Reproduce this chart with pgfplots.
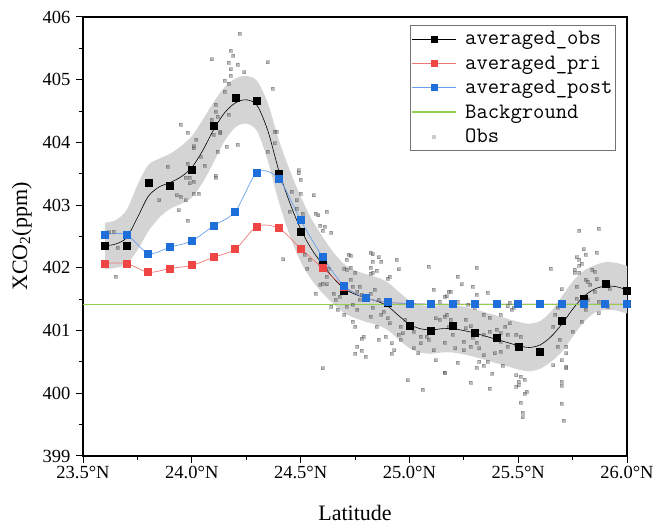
\documentclass[border=0pt]{standalone}
\usepackage{pgfplots}
\pgfplotsset{compat=1.18}
\usepackage{pgfplotstable}
\usepgfplotslibrary{fillbetween}
\usepackage{fontspec}
\setmainfont{Liberation Serif}
\definecolor{cRed}{HTML}{F04545}
\definecolor{cRedL}{HTML}{F07878}
\definecolor{cBlue}{HTML}{1E6FD9}
\definecolor{cBlueL}{HTML}{6AA0EA}
\definecolor{cGreen}{HTML}{92CD50}
\definecolor{cBand}{HTML}{D4D4D4}

\pgfplotstableread{
x y
23.6 402.35
23.7 402.36
23.8 403.35
23.9 403.31
24.0 403.57
24.1 404.26
24.2 404.72
24.3 404.67
24.4 403.50
24.5 402.58
24.6 402.09
24.7 401.63
24.8 401.52
24.9 401.44
25.0 401.07
25.1 401.00
25.2 401.07
25.3 400.96
25.4 400.89
25.5 400.75
25.6 400.66
25.7 401.16
25.8 401.51
25.9 401.75
26.0 401.63
}\obs

\pgfplotstableread{
x y lo hi
23.60 402.35 401.98 402.72
23.65 402.38 402.00 402.76
23.70 402.48 402.06 402.92
23.75 402.80 402.28 403.32
23.80 403.14 402.58 403.64
23.85 403.29 402.80 403.74
23.90 403.36 402.94 403.82
23.95 403.45 403.02 403.94
24.00 403.60 403.12 404.10
24.05 403.87 403.36 404.36
24.10 404.20 403.68 404.64
24.15 404.47 404.02 404.88
24.20 404.63 404.24 405.02
24.25 404.68 404.30 405.06
24.30 404.59 404.18 404.98
24.35 404.18 403.70 404.62
24.40 403.55 403.05 404.04
24.45 403.04 402.52 403.56
24.50 402.62 402.10 403.14
24.55 402.30 401.81 402.78
24.60 402.06 401.60 402.50
24.65 401.84 401.43 402.25
24.70 401.67 401.28 402.06
24.75 401.58 401.20 401.96
24.80 401.52 401.14 401.90
24.85 401.47 401.09 401.85
24.90 401.39 401.01 401.77
24.95 401.24 400.86 401.62
25.00 401.10 400.72 401.48
25.05 401.03 400.65 401.41
25.10 401.01 400.63 401.39
25.15 401.03 400.65 401.41
25.20 401.03 400.65 401.41
25.25 401.00 400.62 401.38
25.30 400.96 400.58 401.34
25.35 400.91 400.53 401.29
25.40 400.86 400.48 401.24
25.45 400.81 400.43 401.19
25.50 400.76 400.38 401.14
25.55 400.73 400.35 401.11
25.60 400.77 400.39 401.15
25.65 400.90 400.50 401.30
25.70 401.10 400.66 401.54
25.75 401.34 400.90 401.78
25.80 401.54 401.13 401.95
25.85 401.66 401.28 402.04
25.90 401.71 401.33 402.09
25.95 401.70 401.32 402.08
26.00 401.65 401.27 402.03
}\fit

\pgfplotstableread{
x y
23.6 402.07
23.7 402.07
23.8 401.93
23.9 401.99
24.0 402.04
24.1 402.17
24.2 402.30
24.3 402.66
24.4 402.63
24.5 402.31
24.6 402.00
24.7 401.70
24.8 401.52
24.9 401.45
25.0 401.43
25.1 401.42
25.2 401.42
25.3 401.42
25.4 401.42
25.5 401.42
25.6 401.42
25.7 401.42
25.8 401.42
25.9 401.42
26.0 401.42
}\pri

\pgfplotstableread{
x y
23.6 402.53
23.7 402.53
23.8 402.23
23.9 402.33
24.0 402.43
24.1 402.67
24.2 402.90
24.3 403.52
24.4 403.42
24.5 402.76
24.6 402.18
24.7 401.71
24.8 401.52
24.9 401.45
25.0 401.43
25.1 401.42
25.2 401.42
25.3 401.42
25.4 401.42
25.5 401.42
25.6 401.42
25.7 401.42
25.8 401.42
25.9 401.42
26.0 401.42
}\post

\pgfplotstableread{
x y
23.62 402.57
23.64 402.58
23.66 402.32
23.65 401.86
23.89 403.61
23.85 403.08
23.95 404.28
23.98 404.16
23.93 403.16
23.95 403.14
23.94 402.92
23.98 402.75
23.97 403.08
23.97 403.44
23.99 403.44
23.99 403.35
23.98 403.66
24.01 403.94
24.02 404.04
24.01 403.91
24.06 403.63
24.04 403.77
24.01 403.37
24.01 403.19
24.03 403.18
24.09 405.33
24.11 404.60
24.11 404.49
24.09 404.36
24.10 404.12
24.11 403.47
24.11 403.44
24.12 403.85
24.13 404.17
24.22 405.74
24.18 405.46
24.19 405.39
24.17 405.27
24.21 405.24
24.18 405.17
24.24 405.12
24.18 405.06
24.15 404.99
24.17 404.94
24.35 405.28
24.37 404.86
24.15 404.81
24.12 404.41
24.17 404.44
24.13 404.15
24.16 403.93
24.21 403.96
24.38 404.17
24.39 404.17
24.38 403.99
24.35 403.85
24.49 403.51
24.50 403.41
24.49 403.56
24.46 403.22
24.48 403.08
24.50 403.19
24.45 402.90
24.48 402.95
24.51 402.87
24.56 403.16
24.57 402.87
24.58 402.84
24.62 402.90
24.42 402.14
24.53 401.99
24.54 402.13
24.52 402.21
24.59 402.68
24.60 402.60
24.57 401.59
24.60 401.75
24.62 401.86
24.61 402.66
24.64 402.56
24.59 402.07
24.60 402.10
24.63 401.99
24.62 401.74
24.59 401.73
24.72 402.21
24.73 402.19
24.71 402.13
24.70 401.99
24.71 401.97
24.73 402.01
24.75 401.92
24.82 402.24
24.83 402.22
24.86 402.17
24.87 402.10
24.83 402.10
24.82 402.01
24.85 401.96
24.83 401.92
24.82 401.91
24.90 401.83
24.91 401.86
24.94 402.13
24.95 401.98
25.09 402.02
25.11 401.65
25.18 401.62
24.65 401.59
24.68 401.54
24.66 401.49
24.64 401.38
24.67 401.33
24.73 401.81
24.74 401.70
24.77 401.70
24.76 401.62
24.78 401.57
24.77 401.49
24.74 401.41
24.76 401.33
24.71 401.38
24.70 401.25
24.74 401.14
24.75 401.06
24.79 400.90
24.78 400.87
24.76 400.74
24.78 400.68
24.75 400.63
24.80 400.58
24.60 400.40
24.82 401.59
24.84 401.65
24.86 401.49
24.88 401.30
24.87 401.25
24.83 401.36
24.82 401.22
24.90 401.20
24.91 401.12
24.85 401.06
24.92 400.63
24.93 400.69
24.96 400.85
24.97 400.96
24.99 400.21
25.06 400.06
25.02 400.98
25.05 400.90
25.04 400.64
25.02 400.72
25.05 400.80
25.08 400.90
25.09 400.85
25.11 400.69
25.12 400.53
25.16 400.33
25.12 401.20
25.14 401.17
25.17 401.25
25.18 401.06
25.16 401.54
24.86 400.85
24.92 400.80
24.89 400.90
24.95 400.93
24.96 401.06
24.98 401.17
25.31 402.01
25.22 401.86
25.24 401.74
25.19 401.62
25.17 401.55
25.14 401.46
25.29 401.70
25.31 401.57
25.36 401.60
25.22 401.46
25.27 401.41
25.30 401.36
25.34 401.25
25.37 401.21
25.42 401.26
25.46 401.44
25.48 401.36
25.47 401.33
25.45 401.39
25.16 401.22
25.19 401.17
25.19 401.04
25.20 400.93
25.16 400.81
25.26 401.17
25.26 401.04
25.28 401.07
25.29 400.96
25.29 400.89
25.25 400.82
25.31 400.81
25.34 400.93
25.37 400.98
25.39 400.88
25.40 401.01
25.42 400.96
25.42 400.82
25.44 401.06
25.45 400.93
25.46 401.12
25.49 400.93
25.45 400.74
25.42 400.66
25.39 400.64
25.34 400.61
25.32 400.72
25.21 400.72
25.25 400.69
25.28 400.74
25.49 400.77
25.51 400.90
25.22 400.49
25.16 400.33
25.28 400.17
25.32 400.50
25.34 400.44
25.31 400.41
25.38 400.32
25.37 400.08
25.36 400.50
25.43 400.44
25.49 400.29
25.51 400.26
25.50 400.19
25.50 400.13
25.49 400.11
25.53 400.22
25.54 400.03
25.53 400.00
25.51 399.85
25.52 399.69
25.52 399.62
25.65 401.99
25.78 402.59
25.87 402.63
25.80 402.30
25.81 402.21
25.86 402.24
25.77 402.17
25.78 402.13
25.79 402.07
25.78 402.04
25.76 401.97
25.76 401.92
25.78 401.92
25.84 401.97
25.85 401.94
25.81 401.81
25.82 401.78
25.83 401.73
25.86 401.82
25.77 401.70
25.70 401.66
25.77 401.51
25.82 401.49
25.87 401.46
25.85 401.62
25.91 401.75
25.92 401.67
25.87 401.28
25.91 401.38
25.81 401.33
25.79 401.14
25.75 400.98
25.68 401.36
25.67 401.25
25.66 401.06
25.69 400.85
25.68 400.74
25.72 400.74
25.70 400.53
25.72 400.64
25.66 400.45
25.72 400.42
25.72 400.40
25.70 400.19
25.70 400.12
25.70 399.83
25.71 399.56
}\scat

\begin{document}
\begin{tikzpicture}
\begin{axis}[
  at={(83pt,69pt)}, anchor=south west,
  scale only axis, width=544pt, height=439pt,
  xmin=23.5, xmax=26.0, ymin=399, ymax=406,
  xtick={23.5,24.0,24.5,25.0,25.5,26.0},
  ytick={399,400,401,402,403,404,405,406},
  minor x tick num=1, minor y tick num=1,
  tick align=outside, xtick pos=left, ytick pos=left,
  major tick length=7pt, minor tick length=4pt,
  every tick/.style={black, line width=1pt},
  axis line style={line width=1.2pt},
  /pgf/number format/assume math mode=true,
  xticklabel={\pgfmathprintnumber[fixed,fixed zerofill,precision=1]{\tick}°N},
  yticklabel={\pgfmathprintnumber[fixed,precision=0]{\tick}},
  tick label style={font=\fontsize{18.5}{20}\selectfont},
  yticklabel style={xshift=-2pt},
  xlabel={Latitude}, ylabel={XCO\textsubscript{2}(ppm)},
  every axis x label/.style={at={(axis description cs:0.5,0)}, anchor=center, yshift=-57pt, font=\fontsize{22}{24}\selectfont},
  every axis y label/.style={at={(axis description cs:-0.1125,0.5)}, rotate=90, anchor=center, font=\fontsize{22}{24}\selectfont},
  legend image code/.code={\draw[mark repeat=2,mark phase=2,#1] plot coordinates {(0pt,0pt) (22pt,0pt) (44pt,0pt)};},
  legend style={at={(0.601,0.982)}, anchor=north west, draw=black!55, line width=0.9pt,
    font=\ttfamily\fontsize{22}{23}\selectfont, row sep=7.5pt, column sep=7pt,
    inner xsep=1pt, inner ysep=5pt,
    nodes={inner ysep=1pt, inner xsep=1.5pt}},
  legend cell align=left,
]
\addplot[name path=hi, draw=none, smooth, forget plot] table[x=x, y=hi] {\fit};
\addplot[name path=lo, draw=none, smooth, forget plot] table[x=x, y=lo] {\fit};
\addplot[cBand, forget plot] fill between[of=hi and lo];
\addplot[only marks, mark=square*, mark size=1.5pt, black!65, opacity=0.4, forget plot] table {\scat};
\addplot[black, line width=0.6pt, smooth, forget plot] table[x=x, y=y] {\fit};
\addplot[only marks, mark=square*, mark size=3.5pt, black, forget plot] table {\obs};
\addplot[cRedL, line width=0.7pt, smooth, mark=square*, mark size=3.5pt, mark options={cRed}, forget plot] table {\pri};
\addplot[cBlueL, line width=0.7pt, smooth, mark=square*, mark size=3.5pt, mark options={cBlue}, forget plot] table {\post};
\addplot[cGreen, line width=1.3pt, forget plot] coordinates {(23.5,401.42) (26.0,401.42)};
\addlegendimage{black, line width=0.6pt, mark=square*, mark size=3pt}
\addlegendentry{averaged\_obs}
\addlegendimage{cRedL, line width=0.7pt, mark=square*, mark size=3pt, mark options={cRed}}
\addlegendentry{averaged\_pri}
\addlegendimage{cBlueL, line width=0.7pt, mark=square*, mark size=3pt, mark options={cBlue}}
\addlegendentry{averaged\_post}
\addlegendimage{color=cGreen, draw=cGreen, line width=1.3pt, no marks}
\addlegendentry{Background}
\addlegendimage{only marks, mark=square*, mark size=1.4pt, color=black!20}
\addlegendentry{Obs}
\end{axis}
\pgfresetboundingbox
\useasboundingbox (0,0) rectangle (654pt,525pt);
\end{tikzpicture}
\end{document}
